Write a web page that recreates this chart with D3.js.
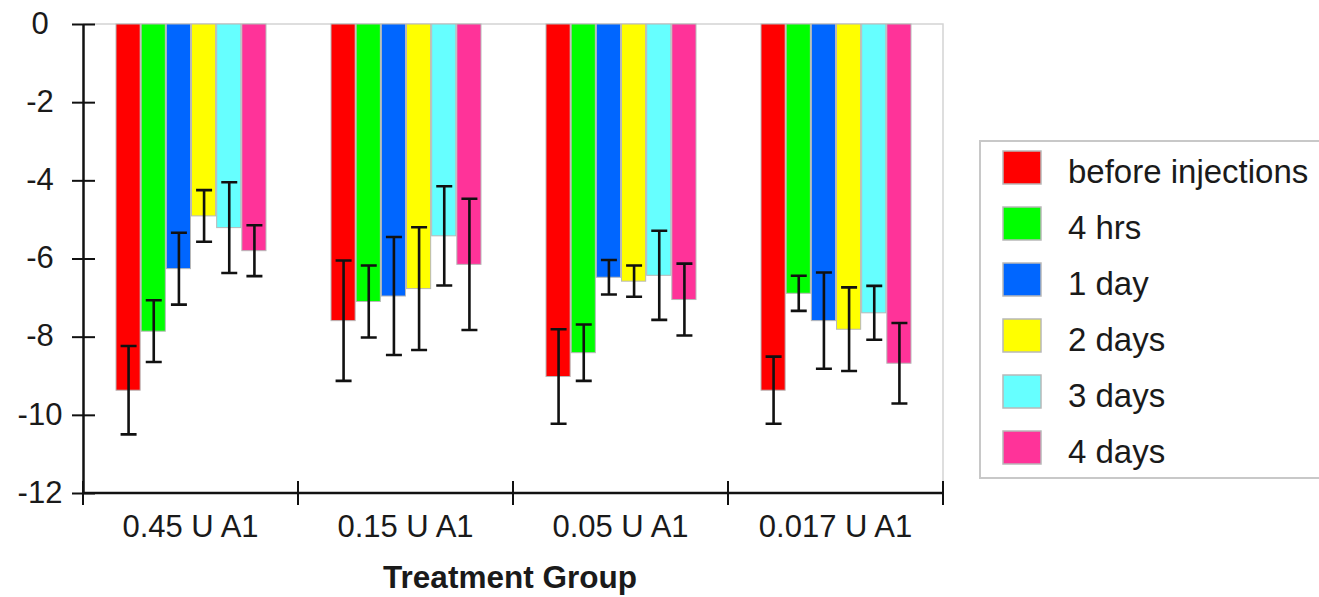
<!DOCTYPE html>
<html>
<head>
<meta charset="utf-8">
<script src="https://cdn.jsdelivr.net/npm/d3@7"></script>
<style>
  html, body { margin: 0; padding: 0; background: #ffffff; }
  svg { display: block; font-family: "Liberation Sans", Arial, sans-serif; }
</style>
</head>
<body>
<svg id="chart" width="1319" height="597"></svg>
<script>
// ---- data ----
const groups = ["0.45 U A1", "0.15 U A1", "0.05 U A1", "0.017 U A1"];
const seriesNames = ["before injections", "4 hrs", "1 day", "2 days", "3 days", "4 days"];
const seriesColors = ["#ff0000", "#00ff00", "#0066ff", "#ffff00", "#66ffff", "#ff3399"];
// mean values per series (one entry per group)
const beforeInjections = [-9.37, -7.59, -9.02, -9.37];
const hrs4 = [-7.86, -7.10, -8.41, -6.89];
const day1 = [-6.26, -6.96, -6.48, -7.59];
const days2 = [-4.91, -6.77, -6.58, -7.81];
const days3 = [-5.21, -5.42, -6.43, -7.39];
const days4 = [-5.80, -6.15, -7.05, -8.68];
// error bar half-lengths
const errBefore = [1.13, 1.54, 1.21, 0.86];
const errHrs4 = [0.79, 0.92, 0.72, 0.45];
const errDay1 = [0.92, 1.51, 0.44, 1.23];
const errDays2 = [0.66, 1.57, 0.40, 1.07];
const errDays3 = [1.16, 1.27, 1.14, 0.69];
const errDays4 = [0.65, 1.68, 0.92, 1.03];
const yTicks = [0, -2, -4, -6, -8, -10, -12];
const xTitle = "Treatment Group";

const seriesValues = [beforeInjections, hrs4, day1, days2, days3, days4];
const seriesErrors = [errBefore, errHrs4, errDay1, errDays2, errDays3, errDays4];

// ---- layout ----
const svg = d3.select("#chart");
const mLeft = 83, mRight = 943, mTop = 24, mBottom = 493;
const textColor = "#1a1a1a";

const y = d3.scaleLinear().domain([-12, 0]).range([mBottom, mTop]);
const x0 = d3.scaleBand().domain(groups).range([mLeft, mRight]).padding(0);
const x1 = d3.scaleBand().domain(seriesNames).range([33, 183]).paddingInner(0.04).paddingOuter(0);

// plot frame (light gray top and right)
svg.append("path")
  .attr("d", `M${mLeft},${mTop}H${mRight}V${mBottom}`)
  .attr("fill", "none").attr("stroke", "#d4d4d4").attr("stroke-width", 1.5);

// bars
const data = [];
groups.forEach((g, gi) => {
  seriesNames.forEach((s, si) => {
    data.push({ g, s, si, v: seriesValues[si][gi], e: seriesErrors[si][gi] });
  });
});

svg.append("g").selectAll("rect").data(data).join("rect")
  .attr("x", d => x0(d.g) + x1(d.s))
  .attr("y", y(0))
  .attr("width", x1.bandwidth())
  .attr("height", d => y(d.v) - y(0))
  .attr("fill", d => seriesColors[d.si])
  .attr("stroke", "#b8b8b8").attr("stroke-width", 1);

// error bars
const capW = 8;
svg.append("g").attr("stroke", "#111").attr("stroke-width", 2.6).attr("fill", "none")
  .selectAll("path").data(data).join("path")
  .attr("d", d => {
    const cx = x0(d.g) + x1(d.s) + x1.bandwidth() / 2 + 0.5;
    const y1 = y(d.v + d.e), y2 = y(d.v - d.e);
    return `M${cx},${y1}V${y2}M${cx - capW},${y1}H${cx + capW}M${cx - capW},${y2}H${cx + capW}`;
  });

// y axis
const yAxis = d3.axisLeft(y).tickValues(yTicks).tickSize(0).tickFormat(d => String(d));
const gy = svg.append("g").attr("transform", `translate(${mLeft},0)`).call(yAxis);
gy.select(".domain").attr("stroke", "#111").attr("stroke-width", 2.5);
gy.selectAll(".tick text")
  .attr("x", 40 - mLeft).attr("dy", "0.3em").attr("text-anchor", "middle")
  .attr("font-size", 31).attr("fill", textColor)
  .attr("font-family", "'Liberation Sans', Arial, sans-serif");
gy.selectAll(".tick line").remove();
gy.selectAll(".tick").append("line")
  .attr("x1", -11).attr("x2", 12).attr("stroke", "#111").attr("stroke-width", 2);

// x axis
const xAxis = d3.axisBottom(x0).tickSize(0).tickSizeOuter(0);
const gx = svg.append("g").attr("transform", `translate(0,${mBottom})`).call(xAxis);
gx.select(".domain").attr("stroke", "#111").attr("stroke-width", 2.5)
  .attr("d", `M${mLeft},0H${mRight}`);
gx.selectAll(".tick line").remove();
gx.selectAll(".tick text")
  .attr("y", 44).attr("dy", 0)
  .attr("font-size", 31).attr("fill", textColor)
  .attr("font-family", "'Liberation Sans', Arial, sans-serif");
// group separator ticks (crossing the axis)
const sepX = groups.map(g => x0(g)).concat([mRight]);
gx.selectAll(".sep").data(sepX).join("line").attr("class", "sep")
  .attr("x1", d => d).attr("x2", d => d).attr("y1", -12).attr("y2", 12)
  .attr("stroke", "#111").attr("stroke-width", 2);

// x title
svg.append("text")
  .attr("x", 510)
  .attr("y", 588).attr("text-anchor", "middle")
  .attr("font-size", 31.5).attr("font-weight", "bold").attr("fill", textColor)
  .text(xTitle);

// legend
const legX = 980, legY = 141, legW = 340, legH = 337;
svg.append("rect").attr("x", legX).attr("y", legY).attr("width", legW).attr("height", legH)
  .attr("fill", "#fff").attr("stroke", "#c8c8c8").attr("stroke-width", 2);
const legItems = svg.append("g").selectAll("g").data(seriesNames).join("g")
  .attr("transform", (d, i) => `translate(${legX + 23},${legY + 10 + i * 56})`);
legItems.append("rect").attr("width", 38).attr("height", 33)
  .attr("fill", (d, i) => seriesColors[i]).attr("stroke", "#b8b8b8").attr("stroke-width", 1.5);
legItems.append("text").attr("x", 65).attr("y", 32)
  .attr("font-size", 33).attr("fill", textColor).text(d => d);
</script>
</body>
</html>
